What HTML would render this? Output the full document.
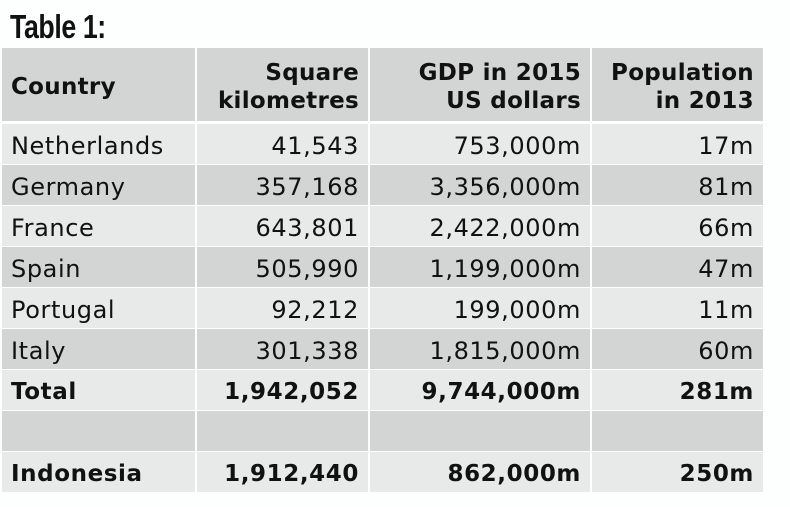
<!DOCTYPE html>
<html><head><meta charset="utf-8"><style>
body{margin:0;width:790px;height:507px;background:#fdfefe;position:relative;overflow:hidden;font-family:"DejaVu Sans","Liberation Sans",sans-serif;color:#111}
.t{position:absolute;left:10px;top:8px;font-family:"Liberation Sans",sans-serif;font-size:33px;font-weight:bold;transform:scaleX(0.81);transform-origin:left;letter-spacing:-0.5px}
.c{position:absolute;box-sizing:border-box;font-size:24px;padding:4px 9px 0 9px;display:flex;align-items:center;line-height:28px;letter-spacing:0.6px}
.r{justify-content:flex-end;text-align:right}
.b{font-weight:bold;font-size:23px;letter-spacing:0.6px}
.h{letter-spacing:0.3px}
</style></head><body>
<div class="t">Table 1:</div>
<div id="g"></div>
<script>
var cols=[[2,193],[197,171],[370,220],[592,171]];
var rows=[
[48,73,'#d3d4d4',['Country','Square<br>kilometres','GDP in 2015<br>US dollars','Population<br>in 2013'],2],
[124,40,'#e8e9e9',['Netherlands','41,543','753,000m','17m'],0],
[165,40,'#d3d4d4',['Germany','357,168','3,356,000m','81m'],0],
[206,40,'#e8e9e9',['France','643,801','2,422,000m','66m'],0],
[247,40,'#d3d4d4',['Spain','505,990','1,199,000m','47m'],0],
[288,40,'#e8e9e9',['Portugal','92,212','199,000m','11m'],0],
[329,40,'#d3d4d4',['Italy','301,338','1,815,000m','60m'],0],
[370,40,'#e8e9e9',['Total','1,942,052','9,744,000m','281m'],1],
[411,40,'#d3d4d4',['','','',''],0],
[452,40,'#e8e9e9',['Indonesia','1,912,440','862,000m','250m'],1]];
var h='';
rows.forEach(function(r){cols.forEach(function(c,i){
h+='<div class="c'+(i?' r':'')+(r[4]?' b':'')+(r[4]==2?' h':'')+'" style="left:'+c[0]+'px;top:'+r[0]+'px;width:'+c[1]+'px;height:'+r[1]+'px;background:'+r[2]+'">'+r[3][i]+'</div>';});});
document.getElementById('g').innerHTML=h;
</script>
</body></html>
